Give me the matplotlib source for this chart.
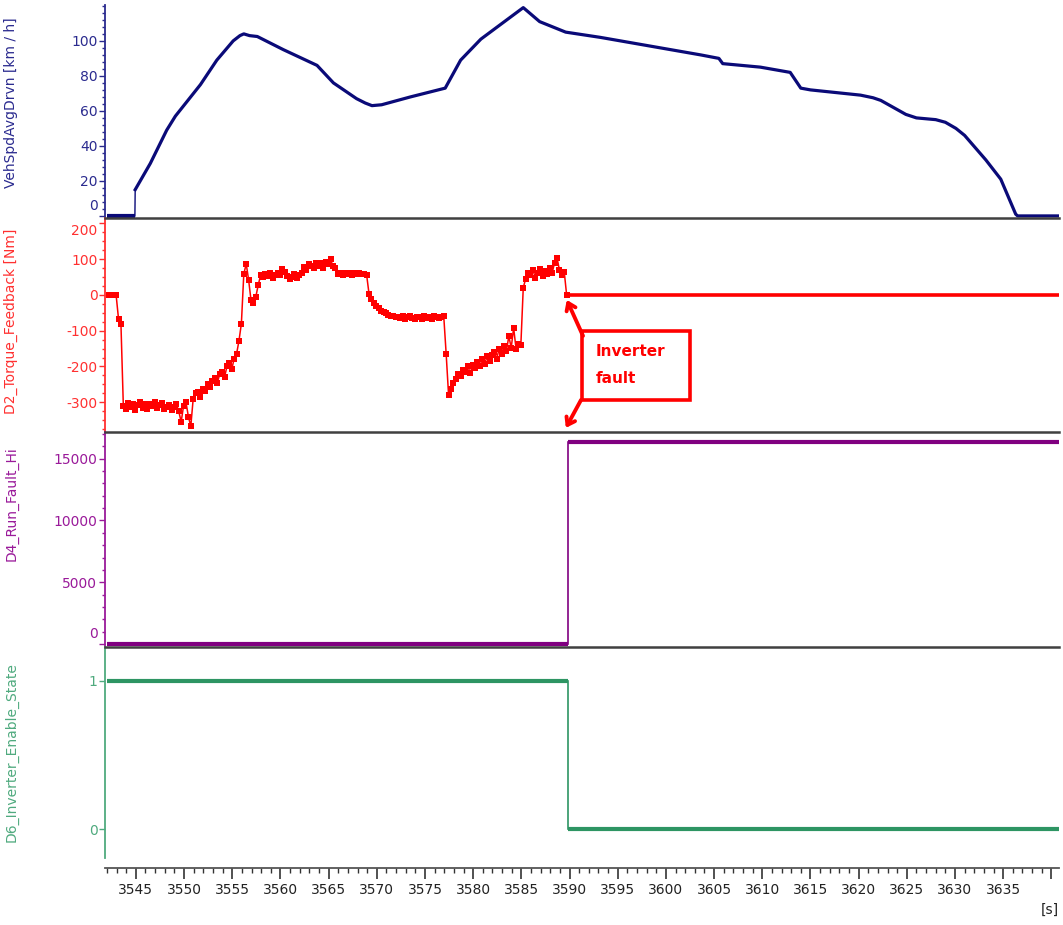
import numpy as np
import matplotlib
matplotlib.use("Agg")
import matplotlib.pyplot as plt
from matplotlib.ticker import MultipleLocator, FuncFormatter
from matplotlib.patches import Rectangle

# ---- data ----
# vehicle speed [km/h]
spd_t = [3542.0, 3544.9, 3544.93, 3546.5, 3548.2, 3549.1, 3551.7, 3553.4, 3555.1,
         3555.8, 3556.2, 3556.8, 3557.6, 3560.3, 3563.8, 3565.5, 3567.9, 3568.8,
         3569.5, 3570.5, 3573.5, 3577.1, 3578.7, 3580.8, 3585.2, 3586.9, 3589.6,
         3593.2, 3598.4, 3603.6, 3605.5, 3605.9, 3609.8, 3612.9, 3614.0, 3615.0,
         3620.2, 3621.5, 3622.3, 3624.9, 3626.0, 3628.0, 3629.0, 3630.1, 3631.0,
         3633.2, 3634.75, 3636.3, 3636.5, 3640.8]
spd_v = [0, 0, 15, 30, 49, 57, 75, 89, 100,
         103, 104, 103, 102.5, 95, 86, 76, 67, 64.5,
         63, 63.5, 68, 73, 89, 101, 119, 111, 105,
         102, 97, 92, 90, 87, 85, 82, 73, 72,
         69, 67.5, 66, 58, 56, 55, 53.5, 50, 46,
         32, 21, 1, 0, 0]

# torque feedback [Nm], sampled every 0.25 s from tq_t0
tq_t0 = 3542.2
tq_dt = 0.25
tq_v = [0, 0, 0, 0, -67, -80,
        -310, -318, -302, -312, -305, -322, -308, -300, -315, -306, -320, -304,
        -311, -299, -316, -309, -303, -318, -312, -307, -322, -314, -305,
        -325, -355, -310, -300, -340, -367, -290, -275,
        -270, -285, -262, -268, -250, -258, -240, -232, -245, -222, -215, -230,
        -200, -190, -208, -178, -165,
        -128, -80, 58, 87, 42, -15, -22, -5, 28, 55,
        50, 58, 54, 60, 48, 56, 62, 55,
        72, 65, 53, 44, 50, 57, 48, 55,
        60, 78, 70, 86, 80, 75, 90, 82, 88, 76, 92, 85,
        100, 80, 76, 58, 62, 55, 60, 57, 62,
        56, 60, 58, 62, 57, 59, 55,
        2, -11, -22, -30, -38, -44, -48, -52, -55, -58, -60, -63, -61,
        -65, -60, -67, -62, -58, -64, -66, -61, -63, -68, -60, -64, -62, -66,
        -59, -63, -65, -61, -60,
        -165, -280,
        -262, -245, -235, -222, -228, -210, -215, -200, -218, -195, -205, -188,
        -198, -180, -192, -172, -185, -168, -160, -178, -150, -165, -142, -158,
        -115, -148, -92, -150, -138, -140,
        20,
        45, 62, 55, 70, 48, 60, 72, 52, 66, 58, 75, 62, 90, 104, 70, 55, 65,
        0]
tq_after_t = [3589.7, 3640.8]
tq_after_v = [0, 0]

# step signals
t_start = 3542.0
t_fault = 3589.8
t_end = 3640.8
fault_hi = [0, 16384]      # before / after
enable_state = [1, 0]      # before / after

xlim = (3541.8, 3640.8)

# ---- style ----
plt.rcParams['font.family'] = ['DejaVu Sans']
plt.rcParams['font.size'] = 10

spd_line, spd_txt = '#0a0a78', '#2b2b8f'
tq_line, tq_txt = '#ff0000', '#ff3030'
rf_line, rf_txt = '#800080', '#9a1a9a'
en_line, en_txt = '#2e9563', '#4faa7e'
sep = '#404040'

fig = plt.figure(figsize=(10.63, 9.25), dpi=100)
L, W = 0.0988, 0.8975
ax1 = fig.add_axes([L, 0.7643, W, 0.2303])
ax2 = fig.add_axes([L, 0.5330, W, 0.2314], sharex=ax1)
ax3 = fig.add_axes([L, 0.3005, W, 0.2324], sharex=ax1)
ax4 = fig.add_axes([L, 0.0724, W, 0.2281], sharex=ax1)


def style(ax, col, label, label_y, top=True):
    ax.spines['right'].set_visible(False)
    ax.spines['bottom'].set_visible(False)
    ax.spines['top'].set_visible(top)
    ax.spines['top'].set_color(sep)
    ax.spines['top'].set_linewidth(1.8)
    ax.spines['left'].set_color(col)
    ax.spines['left'].set_linewidth(1.3)
    ax.tick_params(axis='y', which='major', colors=col, labelcolor=col,
                   length=4.5, width=1, pad=1)
    ax.tick_params(axis='y', which='minor', colors=col, length=2.5, width=1)
    ax.tick_params(axis='x', which='both', bottom=False, labelbottom=False)
    ax.set_ylabel(label, color=col, fontsize=10)
    ax.yaxis.set_label_coords(-0.091, label_y)


def nudged_label(ax, text, y, dy, col):
    ax.annotate(text, xy=(0, y), xycoords=ax.get_yaxis_transform(),
                xytext=(-5.3, dy), textcoords='offset points',
                ha='right', va='center', color=col, fontsize=10)


# panel 1: speed
ax1.plot(spd_t[:2], spd_v[:2], color=spd_line, lw=3, solid_capstyle='butt')
ax1.plot(spd_t[1:3], spd_v[1:3], color=spd_line, lw=1)
ax1.plot(spd_t[2:], spd_v[2:], color=spd_line, lw=2.3, solid_joinstyle='round')
ax1.set_ylim(-1.2, 120.5)
ax1.set_yticks([0, 20, 40, 60, 80, 100])
ax1.yaxis.set_major_formatter(FuncFormatter(lambda v, p: '' if v == 0 else f'{v:.0f}'))
ax1.yaxis.set_minor_locator(MultipleLocator(4))
style(ax1, spd_txt, 'VehSpdAvgDrvn [km / h]', 0.54, top=False)
nudged_label(ax1, '0', 0, 7.4, spd_txt)

# panel 2: torque
tq_t = tq_t0 + tq_dt * np.arange(len(tq_v))
ax2.plot(tq_t, tq_v, color=tq_line, lw=1.1, marker='s', ms=4, mew=0)
ax2.plot(tq_after_t, tq_after_v, color=tq_line, lw=2.6, solid_capstyle='butt')
ax2.set_ylim(-383, 215)
ax2.set_yticks([-300, -200, -100, 0, 100, 200])
ax2.yaxis.set_major_formatter(FuncFormatter(lambda v, p: '' if v == 200 else f'{v:.0f}'))
ax2.yaxis.set_minor_locator(MultipleLocator(25))
style(ax2, tq_txt, 'D2_Torque_Feedback [Nm]', 0.519)
nudged_label(ax2, '200', 200, -5.9, tq_txt)

# annotation
ax2.add_patch(Rectangle((0.5, 0.15), 0.113, 0.322, transform=ax2.transAxes,
                        fill=False, ec='red', lw=2.6, clip_on=False))
ax2.text(0.514, 0.374, 'Inverter', transform=ax2.transAxes, color='red',
         fontsize=11, fontweight='bold', va='center', ha='left')
ax2.text(0.514, 0.252, 'fault', transform=ax2.transAxes, color='red',
         fontsize=11, fontweight='bold', va='center', ha='left')
arrow = dict(arrowstyle='->,head_length=0.5,head_width=0.35', color='red',
             lw=2.8, shrinkA=0, shrinkB=0)
ax2.annotate('', xy=(0.484, 0.617), xytext=(0.501, 0.449),
             xycoords='axes fraction', arrowprops=arrow)
ax2.annotate('', xy=(0.483, 0.019), xytext=(0.499, 0.150),
             xycoords='axes fraction', arrowprops=arrow)

# panel 3: run fault
ax3.plot([t_start, t_fault], [fault_hi[0]] * 2, color=rf_line, lw=3, solid_capstyle='butt')
ax3.plot([t_fault, t_fault], fault_hi, color=rf_line, lw=1.2)
ax3.plot([t_fault, t_end], [fault_hi[1]] * 2, color=rf_line, lw=3, solid_capstyle='butt')
ax3.set_ylim(-240, 17150)
ax3.set_yticks([0, 5000, 10000, 15000])
ax3.yaxis.set_major_formatter(FuncFormatter(lambda v, p: '' if v == 0 else f'{v:.0f}'))
ax3.yaxis.set_minor_locator(MultipleLocator(1000))
style(ax3, rf_txt, 'D4_Run_Fault_Hi', 0.665)
nudged_label(ax3, '0', 0, 7.6, rf_txt)

# panel 4: enable state
ax4.plot([t_start, t_fault], [enable_state[0]] * 2, color=en_line, lw=3, solid_capstyle='butt')
ax4.plot([t_fault, t_fault], enable_state, color=en_line, lw=1.2)
ax4.plot([t_fault, t_end], [enable_state[1]] * 2, color=en_line, lw=3, solid_capstyle='butt')
ax4.set_ylim(-0.193, 1.227)
ax4.set_yticks([0, 1])
style(ax4, en_txt, 'D6_Inverter_Enable_State', 0.5)

# shared time axis at the bottom
ax4.spines['bottom'].set_visible(True)
ax4.spines['bottom'].set_position(('outward', 7.2))
ax4.spines['bottom'].set_color('#555555')
ax4.spines['bottom'].set_linewidth(1.3)
ax4.tick_params(axis='x', which='both', bottom=True, labelbottom=True,
                colors='#333333', labelcolor='#222222')
ax4.tick_params(axis='x', which='major', length=8, width=1.2, pad=2.5)
ax4.tick_params(axis='x', which='minor', length=3.6, width=1)
ax4.set_xlim(*xlim)
ax4.xaxis.set_major_locator(MultipleLocator(5))
ax4.xaxis.set_minor_locator(MultipleLocator(1))
ax4.xaxis.set_major_formatter(FuncFormatter(lambda v, p: f'{v:.0f}' if v < 3638 else ''))
fig.text(1050 / 1063, 1 - 910 / 925, '[s]', ha='center', va='center',
         fontsize=10, color='#222222')

fig.savefig('out.png', dpi=100)
